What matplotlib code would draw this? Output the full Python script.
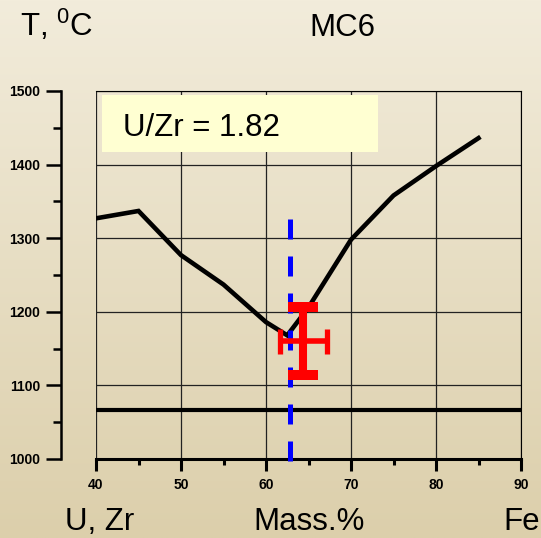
import numpy as np
import matplotlib
matplotlib.use("Agg")
import matplotlib.pyplot as plt
from matplotlib.ticker import MultipleLocator

plt.rcParams['font.family'] = ['Liberation Sans', 'DejaVu Sans']
plt.rcParams['mathtext.fontset'] = 'custom'
plt.rcParams['mathtext.rm'] = 'Liberation Sans'
plt.rcParams['mathtext.it'] = 'Liberation Sans'

# liquidus curve
mass = [40, 45, 50, 55, 60, 62.5, 65, 70, 75, 80, 85]
temp = [1327, 1337, 1277, 1237, 1186, 1168, 1206, 1298, 1358, 1398, 1436]

eutectic_t = 1066
composition = 62.8
point_x, point_y = 64.4, 1160
err_x, err_y = 2.8, 46

W, H = 541, 538
fig = plt.figure(figsize=(W / 100, H / 100), dpi=100)

# background gradient
bg = fig.add_axes([0, 0, 1, 1], zorder=-10)
top = np.array([242, 236, 219]) / 255
bot = np.array([220, 207, 171]) / 255
t = np.linspace(0, 1, 256)[:, None]
grad = top[None, None, :] * (1 - t[:, :, None]) + bot[None, None, :] * t[:, :, None]
bg.imshow(np.repeat(grad, 2, axis=1), aspect='auto', extent=[0, 1, 0, 1])
bg.axis('off')

ax = fig.add_axes([96 / W, 1 - 459 / H, (521 - 96) / W, (459 - 91) / H])
ax.patch.set_alpha(0)
ax.set_xlim(40, 90)
ax.set_ylim(1000, 1500)

ax.xaxis.set_major_locator(MultipleLocator(10))
ax.xaxis.set_minor_locator(MultipleLocator(5))
ax.yaxis.set_major_locator(MultipleLocator(100))
ax.yaxis.set_minor_locator(MultipleLocator(50))
ax.grid(True, which='major', color='#222222', lw=0.9)
ax.set_axisbelow(True)

ax.spines['left'].set_position(('outward', 25.2))
ax.spines['left'].set_linewidth(1.8)
ax.spines['bottom'].set_linewidth(2.2)
ax.spines['top'].set_linewidth(0.8)
ax.spines['right'].set_linewidth(0.8)

ax.tick_params(axis='x', which='major', direction='out', length=8.6, width=2.2, pad=5,
               labelsize=10)
ax.tick_params(axis='x', which='minor', direction='out', length=4.3, width=2.2)
ax.tick_params(axis='y', which='major', direction='out', length=10.8, width=1.8, pad=4,
               labelsize=10)
ax.tick_params(axis='y', which='minor', direction='out', length=5.8, width=1.8)
for lab in ax.get_xticklabels() + ax.get_yticklabels():
    lab.set_fontweight('bold')

ax.plot(mass, temp, color='black', lw=3.3, solid_joinstyle='miter', zorder=3)
ax.axhline(eutectic_t, color='black', lw=3.0, zorder=3)
ax.plot([composition, composition], [1326, 993], color='#0000FF', lw=3.6,
        dashes=(4, 3.4), clip_on=False, zorder=4)

ax.errorbar(point_x, point_y, yerr=err_y, color='#FF0000', lw=5.8, capsize=10.8,
            capthick=7.2, zorder=5)
ax.errorbar(point_x, point_y, xerr=err_x, color='#FF0000', lw=4.0, capsize=9,
            capthick=3.8, zorder=5)

box = plt.Rectangle((0.014, 0.834), 0.65, 0.155, transform=ax.transAxes,
                    facecolor='#FFFFD2', edgecolor='none', zorder=6)
ax.add_patch(box)
ax.text(0.064, 0.878, 'U/Zr = 1.82', transform=ax.transAxes, fontsize=22.5,
        va='baseline', ha='left', zorder=7)

fs = 22.5
fig.text(20 / W, 1 - 36 / H, 'T, $^0$C', fontsize=fs, va='baseline', ha='left')
fig.text(342 / W, 1 - 36 / H, 'MC6', fontsize=fs, va='baseline', ha='center')
fig.text(100 / W, 1 - 530 / H, 'U, Zr', fontsize=fs, va='baseline', ha='center')
fig.text(309 / W, 1 - 530 / H, 'Mass.%', fontsize=fs, va='baseline', ha='center')
fig.text(503 / W, 1 - 530 / H, 'Fe', fontsize=fs, va='baseline', ha='left')

fig.savefig('out.png', dpi=100)
